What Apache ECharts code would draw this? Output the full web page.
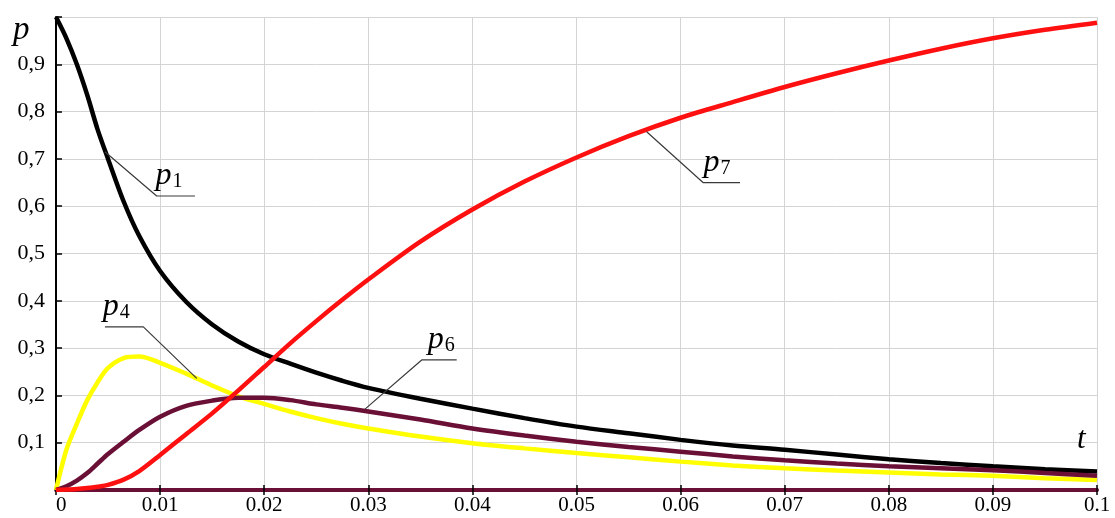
<!DOCTYPE html>
<html>
<head>
<meta charset="utf-8">
<script src="https://cdn.jsdelivr.net/npm/echarts@6/dist/echarts.min.js"></script>
<style>
html,body{margin:0;padding:0;background:#fff;}
#chart{width:1115px;height:518px;}
</style>
</head>
<body>
<div id="chart"></div>
<script>
// ---- data ----
const t  = [0, 0.001, 0.002, 0.003, 0.004, 0.005, 0.0065, 0.008, 0.01, 0.0125, 0.015, 0.0175, 0.02, 0.0225, 0.025, 0.0275, 0.03, 0.035, 0.04, 0.045, 0.05, 0.055, 0.06, 0.065, 0.07, 0.075, 0.08, 0.085, 0.09, 0.095, 0.1];
const p1 = [1.0, 0.955, 0.9, 0.835, 0.762, 0.7, 0.61, 0.537, 0.463, 0.398, 0.35, 0.314, 0.287, 0.267, 0.248, 0.231, 0.216, 0.193, 0.172, 0.152, 0.134, 0.12, 0.106, 0.094, 0.085, 0.075, 0.065, 0.057, 0.05, 0.044, 0.039];
const p4 = [0, 0.085, 0.14, 0.19, 0.228, 0.258, 0.279, 0.282, 0.269, 0.246, 0.221, 0.198, 0.182, 0.166, 0.152, 0.14, 0.13, 0.113, 0.099, 0.088, 0.078, 0.069, 0.06, 0.052, 0.046, 0.041, 0.037, 0.033, 0.03, 0.025, 0.021];
const p6 = [0, 0.008, 0.02, 0.036, 0.056, 0.076, 0.102, 0.127, 0.155, 0.178, 0.189, 0.195, 0.195, 0.19, 0.181, 0.174, 0.166, 0.149, 0.13, 0.115, 0.102, 0.091, 0.081, 0.071, 0.063, 0.056, 0.05, 0.046, 0.042, 0.036, 0.03];
const p7 = [0, 0.001, 0.002, 0.004, 0.007, 0.011, 0.022, 0.04, 0.074, 0.118, 0.162, 0.21, 0.26, 0.31, 0.357, 0.402, 0.445, 0.525, 0.593, 0.652, 0.703, 0.748, 0.787, 0.82, 0.852, 0.881, 0.908, 0.933, 0.955, 0.973, 0.988];
const xTickLabels = ['0', '0.01', '0.02', '0.03', '0.04', '0.05', '0.06', '0.07', '0.08', '0.09', '0.1'];
const yTickLabels = ['', '0,1', '0,2', '0,3', '0,4', '0,5', '0,6', '0,7', '0,8', '0,9', ''];
const seriesNames = ['1', '4', '6', '7'];

// ---- annotations (data coordinates of leader lines and label anchors) ----
const annotations = [
  {sub: '1', pts: [[0.0047, 0.7152], [0.00967, 0.6216], [0.01335, 0.6216]], text: [0.00955, 0.6216]},
  {sub: '4', pts: [[0.01352, 0.236], [0.00839, 0.345], [0.0047, 0.345]], text: [0.0045, 0.345]},
  {sub: '6', pts: [[0.02968, 0.171], [0.03513, 0.275], [0.03849, 0.275]], text: [0.0357, 0.275]},
  {sub: '7', pts: [[0.05674, 0.7575], [0.06218, 0.6497], [0.06571, 0.6497]], text: [0.0622, 0.6497]}
];

const colors = ['#000000', '#ffff00', '#6a0f35', '#ff1010'];
const values = [p1, p4, p6, p7];

const SERIF = '"Liberation Serif", "Times New Roman", serif';

const chart = echarts.init(document.getElementById('chart'), null, {renderer: 'canvas'});

const series = values.map((arr, i) => ({
  name: 'p' + seriesNames[i],
  type: 'line',
  data: t.map((x, k) => [x, arr[k]]),
  showSymbol: false,
  smooth: 0.3,
  lineStyle: {color: colors[i], width: 4.5},
  itemStyle: {color: colors[i]},
  z: 3 + i
}));

// leader lines as line series in data coordinates
annotations.forEach((a) => {
  series.push({
    type: 'line',
    data: a.pts,
    showSymbol: false,
    silent: true,
    lineStyle: {color: '#3a3a3a', width: 1.2},
    z: 10
  });
});

chart.setOption({
  animation: false,
  backgroundColor: '#ffffff',
  grid: {left: 56, right: 18, top: 17, bottom: 28, containLabel: false},
  xAxis: [{
    type: 'value', min: 0, max: 0.1, interval: 0.01,
    axisLine: {show: true, onZero: false, lineStyle: {color: '#6a0f35', width: 4}},
    axisTick: {show: true, length: 5, lineStyle: {color: '#000', width: 1.5}},
    axisLabel: {
      margin: 5,
      alignMinLabel: 'left',
      fontFamily: SERIF, fontSize: 21, color: '#000',
      formatter: (v) => xTickLabels[Math.round(v / 0.01)]
    },
    splitLine: {show: true, lineStyle: {color: '#d4d4d4', width: 1}}
  }, {
    type: 'value', min: 0, max: 0.1, interval: 0.01, position: 'bottom',
    axisLine: {show: false},
    axisTick: {show: true, inside: true, length: 5, lineStyle: {color: '#000', width: 1.5}},
    axisLabel: {show: false},
    splitLine: {show: false}
  }],
  yAxis: [{
    type: 'value', min: 0, max: 1, interval: 0.1,
    axisLine: {show: true, onZero: false, lineStyle: {color: '#000', width: 2}},
    axisTick: {show: true, inside: true, length: 6, lineStyle: {color: '#000', width: 1.5}},
    axisLabel: {
      margin: 11,
      fontFamily: SERIF, fontSize: 22, color: '#000',
      formatter: (v) => yTickLabels[Math.round(v / 0.1)]
    },
    splitLine: {show: true, lineStyle: {color: '#d4d4d4', width: 1}}
  }],
  series: series
});

// text labels
const rich = {
  p: {fontFamily: SERIF, fontStyle: 'italic', fontSize: 32, color: '#000', lineHeight: 32, verticalAlign: 'bottom'},
  s: {fontFamily: SERIF, fontSize: 20, color: '#000', lineHeight: 17, verticalAlign: 'bottom', padding: [0, 0, 0, 1]}
};
const graphics = annotations.map((a) => {
  const pt = chart.convertToPixel({gridIndex: 0}, a.text);
  return {
    type: 'text',
    x: pt[0], y: pt[1] - 4,
    style: {
      text: '{p|p}{s|' + a.sub + '}',
      rich: rich,
      align: 'left', verticalAlign: 'bottom'
    },
    z: 20
  };
});
graphics.push({
  type: 'text', x: 13, y: 47,
  style: {text: 'p', fontFamily: SERIF, fontStyle: 'italic', fontSize: 33, fill: '#000', align: 'left', verticalAlign: 'bottom'},
  z: 20
});
graphics.push({
  type: 'text', x: 1077, y: 455,
  style: {text: 't', fontFamily: SERIF, fontStyle: 'italic', fontSize: 31, fill: '#000', align: 'left', verticalAlign: 'bottom'},
  z: 20
});
chart.setOption({graphic: graphics});
</script>
</body>
</html>
